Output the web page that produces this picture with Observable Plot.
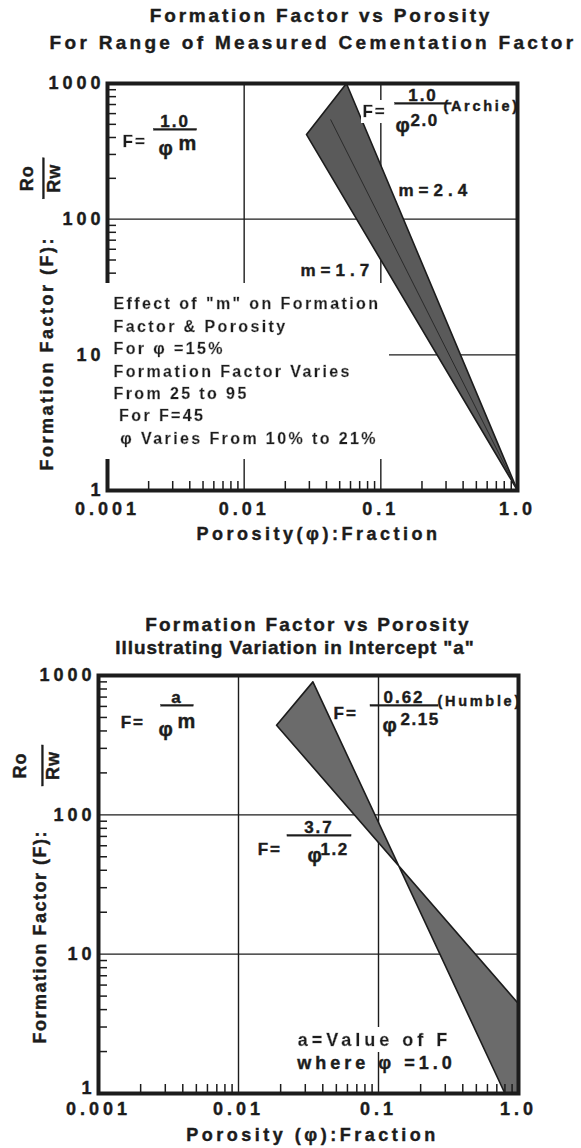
<!DOCTYPE html>
<html>
<head>
<meta charset="utf-8">
<script src="https://cdn.jsdelivr.net/npm/d3@7"></script>
<script src="https://cdn.jsdelivr.net/npm/@observablehq/plot@0.6"></script>
<style>
  html, body { margin: 0; padding: 0; background: #fff; }
  #page { position: relative; width: 581px; height: 1148px; overflow: hidden;
          font-family: "Liberation Sans", Arial, sans-serif; color: #1c1c1c; }
  .tl { position: absolute; width: 800px; text-align: center; font-weight: bold;
        font-size: 19px; white-space: nowrap; line-height: 24px; -webkit-text-stroke: 0.4px #1c1c1c; }
  #t1a { left: -79px; top: 4px; letter-spacing: 2.8px; }
  #t1b { left: -87px; top: 31px; letter-spacing: 3.3px; }
  #t2a { left: -92px; top: 613px; letter-spacing: 2.2px; }
  #t2b { left: -105px; top: 636px; letter-spacing: 0.9px; }
  .chart { position: absolute; left: 0; }
  #c1 { top: 60px; }
  #c2 { top: 662px; }
  #page svg text { font-weight: bold; stroke: #1c1c1c; stroke-width: 0.4px; }
  svg g[aria-label="x-axis tick label"] text,
  svg g[aria-label="y-axis tick label"] text { letter-spacing: 4px; }
  svg g[aria-description="eq"] text { letter-spacing: 2px; }
  svg g[aria-description="eqbox"] text { letter-spacing: 2px; filter: url(#wbox); }
  svg g[aria-description="numer"] text { letter-spacing: 2px; text-decoration: underline;
      text-decoration-thickness: 2px; text-underline-offset: 2px; }
  svg g[aria-description="exp"] text { letter-spacing: 1.5px; }
  svg g[aria-description="mlab"] text { letter-spacing: 5px; }
  svg g[aria-description="block"] text { letter-spacing: 2.4px; filter: url(#wbox); }
  svg g[aria-description="note"] text { letter-spacing: 4px; }
  svg g[aria-description="boxnote"] text { letter-spacing: 4px; filter: url(#wbox); }
  svg g[aria-description="src"] text { letter-spacing: 2.7px; }
  svg g[aria-description="ylab1"] text { letter-spacing: 2.5px; }
  svg g[aria-description="ylab2"] text { letter-spacing: 1.5px; }
  svg g[aria-description="rnum"] text { letter-spacing: 1px; }
  svg g[aria-description="rden"] text { letter-spacing: 1px; text-decoration: overline;
      text-decoration-thickness: 2px; }
  svg g[aria-description="xlab"] text { letter-spacing: 3.5px; }
</style>
</head>
<body>
<svg width="0" height="0" style="position:absolute">
  <defs>
    <filter id="wbox" x="-0.03" y="-0.08" width="1.06" height="1.16">
      <feFlood flood-color="white" result="bg"/>
      <feMerge><feMergeNode in="bg"/><feMergeNode in="SourceGraphic"/></feMerge>
    </filter>
  </defs>
</svg>
<div id="page">
  <div class="tl" id="t1a">Formation Factor vs Porosity</div>
  <div class="tl" id="t1b">For Range of Measured Cementation Factor</div>
  <div class="chart" id="c1"></div>
  <div class="tl" id="t2a">Formation Factor vs Porosity</div>
  <div class="tl" id="t2b">Illustrating Variation in Intercept "a"</div>
  <div class="chart" id="c2"></div>
</div>
<script>
// ---------- axes ----------
const xTicks = [0.001, 0.01, 0.1, 1];
const xTickLabels = ["0.001", "0.01", "0.1", "1.0"];
const yTicks = [1, 10, 100, 1000];
const yTickLabels = ["1", "10", "100", "1000"];
const minorSteps = [2, 3, 4, 5, 6, 7, 8, 9];
const minorX = [0.001, 0.01, 0.1].flatMap(d => minorSteps.map(s => +(d * s).toPrecision(3)));
const minorY = [1, 10, 100].flatMap(d => minorSteps.map(s => d * s));

// ---------- chart 1: range of cementation factor m (a = 1) ----------
const m17Phi = [0.0286, 1.0];   // m = 1.7
const m17F   = [420, 1];
const m24Phi = [0.056, 1.0];    // m = 2.4
const m24F   = [1000, 1];
const m20Phi = [0.043, 1.0];    // m = 2.0 (Archie), inner line
const m20F   = [540, 1];

// ---------- chart 2: variation in intercept a ----------
const humblePhi = [0.034, 0.80];  // F = 0.62 / phi^2.15
const humbleF   = [900, 1];
const a37Phi    = [0.0187, 1.0];  // F = 3.7 / phi^1.2
const a37F      = [440, 4.4];
const cornerPhi = [1.0];
const cornerF   = [1];

// ---------- annotation texts and anchors (porosity, F) ----------
const c1EqText = ["F=", "F="];            const c1EqPhi = [0.00129, 0.0734];  const c1EqF = [338, 562];
const c1NumText = ["\u00a01.0\u00a0", "\u00a0\u00a01.0\u00a0\u00a0"];
const c1NumPhi = [0.00312, 0.2035];       const c1NumF = [474, 737];
const c1SymPhi = [0.00236, 0.128];        const c1SymF = [295, 436];
const c1ExpLText = ["m"];                 const c1ExpLPhi = [0.00331];         const c1ExpLF = [321];
const c1ExpNText = ["2.0"];               const c1ExpNPhi = [0.165];           const c1ExpNF = [490];
const c1SrcText = ["(Archie)"];           const c1SrcPhi = [0.287];            const c1SrcF = [632];
const c1MText = ["m=2.4", "m=1.7"];       const c1MPhi = [0.1346, 0.0258];     const c1MF = [149, 38.4];
const c1BlockLines = [
  "Effect of \"m\" on Formation",
  "Factor & Porosity",
  "For \u03c6 =15%",
  "Formation Factor Varies",
  "From 25 to 95",
  "\u2009For F=45",
  "\u00a0\u03c6 Varies From 10% to 21%"
];
const c1BlockPhi = [0.001106];            const c1BlockF = [2.22];

const c2EqText = ["F=", "F=", "F="];      const c2EqPhi = [0.00144, 0.0477, 0.0137]; const c2EqF = [423, 491, 51.1];
const c2NumText = ["\u2002a\u2002", "\u00a0\u00a00.62\u00a0\u00a0", "\u00a0\u20023.7\u00a0\u2002"];
const c2NumPhi = [0.003636, 0.1521, 0.03758]; const c2NumF = [630, 630, 73.5];
const c2SymPhi = [0.00268, 0.1068, 0.0311];   const c2SymF = [371, 390, 45.5];
const c2ExpLText = ["m"];                 const c2ExpLPhi = [0.00367];         const c2ExpLF = [417];
const c2ExpNText = ["2.15", "1.2"];       const c2ExpNPhi = [0.1436, 0.0385];  const c2ExpNF = [438, 51.1];
const c2SrcText = ["(Humble)"];           const c2SrcPhi = [0.2638];           const c2SrcF = [609];
const c2BoxNoteText = ["a=Value of F"];   const c2BoxNotePhi = [0.0936];       const c2BoxNoteF = [2.21];
const c2NoteText = ["where \u03c6 =1.0"]; const c2NotePhi = [0.0968];          const c2NoteF = [1.51];

const yLabelText = "Formation Factor (F):";
const yFracNum = "Ro";
const yFracDen = "\u00a0Rw\u00a0";

const INK = "#1c1c1c";
const FONT = "'Liberation Sans', Arial, Helvetica, sans-serif";

const pts = (phis, Fs) => phis.map((p, i) => ({phi: p, F: Fs[i]}));
const notes = (texts, phis, Fs) => texts.map((t, i) => ({t, phi: phis[i], F: Fs[i]}));

function textMark(data, desc, opts) {
  return Plot.text(data, {x: "phi", y: "F", text: "t", fill: INK, fontWeight: "bold",
    lineAnchor: "bottom", textAnchor: "start", ariaDescription: desc, ...opts});
}

function baseMarks(c) {
  const yFmt = d => yTickLabels[yTicks.indexOf(d)];
  return [
    Plot.ruleX([0.01, 0.1], {stroke: INK, strokeWidth: 1.4}),
    Plot.ruleY([10, 100], {stroke: INK, strokeWidth: 1.4}),
    Plot.line(c.band, {x: "phi", y: "F", fill: c.bandFill, stroke: INK, strokeWidth: 1.6, strokeLinejoin: "round"}),
    ...(c.inner ? [Plot.line(c.inner, {x: "phi", y: "F", stroke: "#2a2a2a", strokeWidth: 1})] : []),
    Plot.frame({stroke: INK, strokeWidth: 4}),
    Plot.axisX(minorX, {anchor: "bottom", tickSize: 9, dy: -9, fill: "none", stroke: INK, strokeWidth: 1.5, label: null}),
    Plot.axisY(minorY, {anchor: "left", tickSize: 9, dx: 9, fill: "none", stroke: INK, strokeWidth: 1.5, label: null}),
    Plot.axisX(xTicks, {anchor: "bottom", tickSize: 0, tickPadding: c.xPad, fontSize: 18, fontWeight: "bold",
      fill: INK, tickFormat: d => xTickLabels[xTicks.indexOf(d)], label: null}),
    Plot.axisY(yTicks.slice(1), {anchor: "left", tickSize: 0, tickPadding: 3, fontSize: 18, fontWeight: "bold",
      fill: INK, tickFormat: yFmt, label: null}),
    Plot.axisY(yTicks.slice(0, 1), {anchor: "left", tickSize: 0, tickPadding: 3, fontSize: 18, fontWeight: "bold",
      fill: INK, tickFormat: yFmt, label: null, dy: c.oneDy}),
    // axis titles
    Plot.text([yLabelText], {frameAnchor: "left", y: () => c.yLabF, text: d => d, rotate: -90, dx: c.yLabDx,
      textAnchor: "start", lineAnchor: "bottom", fontSize: 18, fontWeight: "bold", fill: INK, ariaDescription: c.yLabDesc}),
    Plot.text([yFracNum], {frameAnchor: "left", y: () => c.fracF, text: d => d, rotate: -90, dx: c.numDx,
      textAnchor: "middle", lineAnchor: "bottom", fontSize: 18, fontWeight: "bold", fill: INK, ariaDescription: "rnum"}),
    Plot.text([yFracDen], {frameAnchor: "left", y: () => c.fracF, text: d => d, rotate: -90, dx: c.denDx,
      textAnchor: "middle", lineAnchor: "bottom", fontSize: 18, fontWeight: "bold", fill: INK, ariaDescription: "rden"}),
    Plot.text([c.xLabel], {frameAnchor: "bottom", text: d => d, dy: c.xLabDy, dx: c.xLabDx,
      lineAnchor: "bottom", fontSize: 18, fontWeight: "bold", fill: INK, ariaDescription: "xlab"})
  ];
}

function plotOpts(c, marks) {
  return {
    width: 581, height: c.height,
    marginLeft: c.ml, marginRight: c.mr, marginTop: c.mt, marginBottom: c.mb,
    x: {type: "log", domain: [0.001, 1]},
    y: {type: "log", domain: [1, 1000]},
    style: {fontFamily: FONT, fontWeight: "bold", color: INK, background: "white", overflow: "visible"},
    marks
  };
}

// ---------- chart 1 ----------
const band1 = [...pts([m17Phi[0]], [m17F[0]]), ...pts([m17Phi[1]], [m17F[1]]),
               ...pts([m24Phi[0]], [m24F[0]]), ...pts([m17Phi[0]], [m17F[0]])];
const cfg1 = {height: 500, ml: 107, mr: 64, mt: 23, mb: 70, xPad: 12, oneDy: 0,
  band: band1, bandFill: "#5a5a5a", inner: pts(m20Phi, m20F),
  yLabF: 1.404, yLabDx: -55, yLabDesc: "ylab1", fracF: 200, numDx: -75, denDx: -48,
  xLabel: "Porosity(\u03c6):Fraction", xLabDy: 49, xLabDx: 6};

const chart1 = Plot.plot(plotOpts(cfg1, [
  ...baseMarks(cfg1),
  textMark(notes(c1EqText, c1EqPhi, c1EqF), "eqbox", {fontSize: 17}),
  textMark(notes(c1NumText, c1NumPhi, c1NumF), "numer", {fontSize: 17, textAnchor: "middle"}),
  textMark(notes(c1SymPhi.map(() => "\u03c6"), c1SymPhi, c1SymF), "sym", {fontSize: 20}),
  textMark(notes(c1ExpLText, c1ExpLPhi, c1ExpLF), "exp", {fontSize: 20}),
  textMark(notes(c1ExpNText, c1ExpNPhi, c1ExpNF), "exp", {fontSize: 17}),
  textMark(notes(c1SrcText, c1SrcPhi, c1SrcF), "src", {fontSize: 14.5}),
  textMark(notes(c1MText, c1MPhi, c1MF), "mlab", {fontSize: 17}),
  textMark(notes([c1BlockLines.join("\n")], c1BlockPhi, c1BlockF), "block", {fontSize: 16, lineHeight: 1.396})
]));
document.getElementById("c1").appendChild(chart1);

// ---------- chart 2 ----------
const band2 = [...pts(humblePhi, humbleF), ...pts(cornerPhi, cornerF),
               ...pts([a37Phi[1]], [a37F[1]]), ...pts([a37Phi[0]], [a37F[0]]),
               ...pts([humblePhi[0]], [humbleF[0]])];
const cfg2 = {height: 486, ml: 98, mr: 63, mt: 13, mb: 55, xPad: 9, oneDy: -5,
  band: band2, bandFill: "#6b6b6b", inner: null,
  yLabF: 2.285, yLabDx: -53, yLabDesc: "ylab2", fracF: 226, numDx: -73, denDx: -40,
  xLabel: "Porosity (\u03c6):Fraction", xLabDy: 47, xLabDx: 4};

const chart2 = Plot.plot(plotOpts(cfg2, [
  ...baseMarks(cfg2),
  textMark(notes(c2EqText, c2EqPhi, c2EqF), "eq", {fontSize: 17}),
  textMark(notes(c2NumText, c2NumPhi, c2NumF), "numer", {fontSize: 17, textAnchor: "middle"}),
  textMark(notes(c2SymPhi.map(() => "\u03c6"), c2SymPhi, c2SymF), "sym", {fontSize: 20}),
  textMark(notes(c2ExpLText, c2ExpLPhi, c2ExpLF), "exp", {fontSize: 20}),
  textMark(notes(c2ExpNText, c2ExpNPhi, c2ExpNF), "exp", {fontSize: 17}),
  textMark(notes(c2SrcText, c2SrcPhi, c2SrcF), "src", {fontSize: 14.5}),
  textMark(notes(c2BoxNoteText, c2BoxNotePhi, c2BoxNoteF), "boxnote", {fontSize: 18, textAnchor: "middle"}),
  textMark(notes(c2NoteText, c2NotePhi, c2NoteF), "note", {fontSize: 18, textAnchor: "middle"})
]));
document.getElementById("c2").appendChild(chart2);
</script>
</body>
</html>
